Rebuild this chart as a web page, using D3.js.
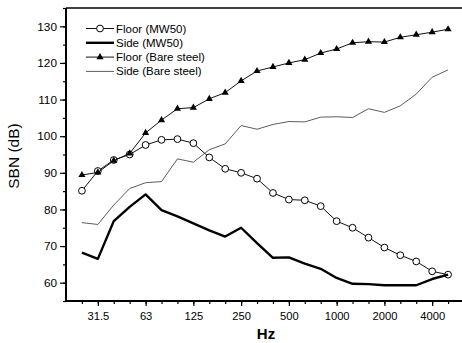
<!DOCTYPE html>
<html>
<head>
<meta charset="utf-8">
<script src="https://cdn.jsdelivr.net/npm/d3@7"></script>
<style>
  body { margin: 0; background: #fff; }
  svg { display: block; font-family: "Liberation Sans", Arial, sans-serif; }
</style>
</head>
<body>
<svg id="plot"></svg>
<script>
const plotWidth = 462
const plotHeight = 343

// third-octave bands (Hz)
const bands = ['25', '31.5', '40', '50', '63', '80', '100', '125', '160', '200', '250', '315',
    '400', '500', '630', '800', '1000', '1250', '1600', '2000', '2500', '3150', '4000', '5000'];
const octaveLabels = ['31.5', '63', '125', '250', '500', '1000', '2000', '4000'];
const yTicks = [60, 70, 80, 90, 100, 110, 120, 130];

const floorMW50 = [85.1, 90.5, 93.5, 95.0, 97.6, 99.0, 99.2, 98.1, 94.2, 91.1, 90.0, 88.4,
    84.5, 82.7, 82.5, 80.9, 76.8, 75.0, 72.3, 69.6, 67.5, 65.8, 63.1, 62.2];
const sideMW50 = [68.2, 66.5, 76.8, 80.7, 84.1, 79.8, 78.1, 76.2, 74.3, 72.6, 75.0, 70.8,
    66.8, 66.9, 65.2, 63.8, 61.3, 59.7, 59.6, 59.3, 59.3, 59.3, 61.0, 62.2];
const floorBare = [89.4, 90.1, 93.3, 95.3, 100.9, 104.4, 107.5, 107.8, 110.2, 111.9, 115.1, 117.8,
    118.9, 120.0, 120.9, 122.7, 123.8, 125.5, 125.8, 125.7, 127.0, 127.7, 128.4, 129.2];
const sideBare = [76.4, 75.9, 81.2, 85.7, 87.3, 87.6, 93.8, 92.9, 96.3, 97.9, 102.9, 101.9,
    103.2, 104.0, 103.9, 105.2, 105.3, 105.1, 107.5, 106.5, 108.3, 111.5, 116.1, 118.1];

const seriesNames = ['Floor (MW50)', 'Side (MW50)', 'Floor (Bare steel)', 'Side (Bare steel)'];

const series = [
    { name: seriesNames[0], values: floorMW50, width: 1, color: '#111', marker: 'circle' },
    { name: seriesNames[1], values: sideMW50, width: 2.4, color: '#000', marker: null },
    { name: seriesNames[2], values: floorBare, width: 1, color: '#111', marker: 'triangle' },
    { name: seriesNames[3], values: sideBare, width: 0.8, color: '#333', marker: null }
];

const plotLeft = 66, plotRight = 464, plotTop = 8, plotBottom = 301;

var svg_plot = d3.select('#plot')
    .attr('width', plotWidth)
    .attr('height', plotHeight);

var xScale = d3.scalePoint()
    .domain(bands)
    .range([plotLeft, plotRight])
    .padding(1);

var yScale = d3.scaleLinear()
    .domain([55, 135])
    .range([plotBottom, plotTop]);

// minor ticks
svg_plot.append('g')
    .attr('transform', `translate(0,${plotBottom})`)
    .call(d3.axisBottom(xScale).tickValues(bands).tickSize(3).tickFormat(''))
    .call(g => g.select('.domain').remove());

svg_plot.append('g')
    .attr('transform', `translate(${plotLeft},0)`)
    .call(d3.axisLeft(yScale).tickValues(d3.range(55, 136, 5)).tickSize(3).tickFormat(''))
    .call(g => g.select('.domain').remove());

// major ticks with labels
var xAxis = svg_plot.append('g')
    .attr('transform', `translate(0,${plotBottom})`)
    .call(d3.axisBottom(xScale).tickValues(octaveLabels).tickSize(5).tickPadding(6))
    .call(g => g.select('.domain').remove());
xAxis.selectAll('text').attr('font-size', 11.2).attr('fill', '#000')
    .attr('font-family', '"Liberation Sans", Arial, sans-serif');

var yAxis = svg_plot.append('g')
    .attr('transform', `translate(${plotLeft},0)`)
    .call(d3.axisLeft(yScale).tickValues(yTicks).tickSize(6).tickPadding(3))
    .call(g => g.select('.domain').remove());
yAxis.selectAll('text').attr('font-size', 11.8).attr('fill', '#000')
    .attr('font-family', '"Liberation Sans", Arial, sans-serif');

svg_plot.selectAll('.tick line').attr('stroke', '#000').attr('stroke-width', 1.2);

// frame
svg_plot.append('line')
    .attr('x1', plotLeft).attr('y1', plotBottom).attr('x2', plotRight).attr('y2', plotBottom)
    .attr('stroke', '#000').attr('stroke-width', 2);
svg_plot.append('line')
    .attr('x1', plotLeft).attr('y1', plotTop).attr('x2', plotLeft).attr('y2', plotBottom)
    .attr('stroke', '#000').attr('stroke-width', 2);
svg_plot.append('line')
    .attr('x1', plotLeft).attr('y1', plotTop).attr('x2', plotRight).attr('y2', plotTop)
    .attr('stroke', '#000').attr('stroke-width', 1.6);

// curves
var line = d3.line()
    .x((d, i) => xScale(bands[i]))
    .y(d => yScale(d));

var triangle = d3.symbol().type(d3.symbolTriangle).size(22);

for (let s of series) {
    svg_plot.append('path')
        .datum(s.values)
        .attr('d', line)
        .attr('fill', 'none')
        .attr('stroke', s.color)
        .attr('stroke-width', s.width)
        .attr('stroke-linejoin', 'round');

    if (s.marker === 'circle') {
        svg_plot.append('g').selectAll('circle')
            .data(s.values)
            .enter()
            .append('circle')
            .attr('cx', (d, i) => xScale(bands[i]))
            .attr('cy', d => yScale(d))
            .attr('r', 3.4)
            .attr('fill', '#fff')
            .attr('stroke', '#000')
            .attr('stroke-width', 1);
    } else if (s.marker === 'triangle') {
        svg_plot.append('g').selectAll('path')
            .data(s.values)
            .enter()
            .append('path')
            .attr('d', triangle)
            .attr('transform', (d, i) => `translate(${xScale(bands[i])},${yScale(d)})`)
            .attr('fill', '#000');
    }
}

// legend
var legend = svg_plot.append('g');
series.forEach((s, i) => {
    let ly = 28.5 + i * 14.3;
    legend.append('line')
        .attr('x1', 86).attr('x2', 114).attr('y1', ly).attr('y2', ly)
        .attr('stroke', s.color).attr('stroke-width', s.width);
    if (s.marker === 'circle') {
        legend.append('circle').attr('cx', 100).attr('cy', ly).attr('r', 3.4)
            .attr('fill', '#fff').attr('stroke', '#000');
    } else if (s.marker === 'triangle') {
        legend.append('path').attr('d', triangle)
            .attr('transform', `translate(100,${ly})`).attr('fill', '#000');
    }
    legend.append('text')
        .attr('x', 116).attr('y', ly + 4)
        .attr('font-size', 11.5)
        .text(s.name);
});

// axis titles
svg_plot.append('text')
    .attr('x', 266).attr('y', 339)
    .attr('text-anchor', 'middle')
    .attr('font-size', 15)
    .attr('font-weight', 'bold')
    .text('Hz');

svg_plot.append('text')
    .attr('transform', 'translate(18.5,156) rotate(-90)')
    .attr('text-anchor', 'middle')
    .attr('font-size', 15.5)
    .text('SBN (dB)');
</script>
</body>
</html>
